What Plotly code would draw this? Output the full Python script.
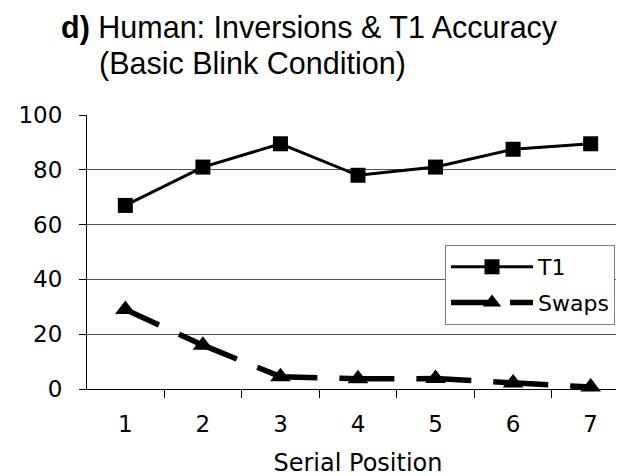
import plotly.graph_objects as go

positions = ["1", "2", "3", "4", "5", "6", "7"]
t1_values = [67, 81, 89.5, 78, 81, 87.5, 89.5]
swaps_values = [29, 16, 4.5, 3.7, 3.8, 2.2, 0.7]
y_ticks = [0, 20, 40, 60, 80, 100]

W, H = 624, 476
L, R, T, B = 79, 3, 107, 95
pw, ph = W - L - R, H - T - B

def px_x(x):
    return (x - L) / pw

def px_y(y):
    return (H - B - y) / ph

fig = go.Figure()
fig.add_trace(go.Scatter(
    x=positions, y=t1_values, name="T1", mode="lines+markers",
    legendgroup="a",
    line=dict(color="black", width=3),
    marker=dict(symbol="square", size=15, color="black"),
    cliponaxis=False,
))
fig.add_trace(go.Scatter(
    x=positions, y=swaps_values, name="Swaps", mode="lines+markers",
    legendgroup="b",
    line=dict(color="black", width=5.5,
              dash="37px,22px,63px,22px,62px,22px,55px,22px,55px,22px,55px,22px,55px,22px,40px"),
    marker=dict(symbol="triangle-up", size=18, color="black"),
    cliponaxis=False,
))

tick_font = dict(family="DejaVu Sans", size=23, color="black")

fig.update_layout(
    width=W, height=H,
    margin=dict(l=L, r=R, t=T, b=B),
    paper_bgcolor="white", plot_bgcolor="white",
    showlegend=True,
    legend=dict(
        x=px_x(437), y=px_y(237), xanchor="left", yanchor="top",
        bgcolor="white", bordercolor="#808080", borderwidth=1,
        font=dict(family="DejaVu Sans", size=22, color="black"),
        itemwidth=82, tracegroupgap=4, traceorder="grouped",
        entrywidth=110, entrywidthmode="pixels",
    ),
    xaxis=dict(
        type="category", tickson="boundaries", ticks="outside", ticklen=8,
        tickcolor="black", showline=True, linecolor="black", linewidth=1,
        showgrid=False, tickfont=tick_font, ticklabelstandoff=14,
        title=dict(text="Serial Position", font=dict(family="DejaVu Sans", size=24, color="black"), standoff=18),
    ),
    yaxis=dict(
        range=[0, 100], tickvals=y_ticks, ticks="outside", ticklen=7,
        tickcolor="black", showline=True, linecolor="black", linewidth=1,
        showgrid=True, gridcolor="#555", gridwidth=1, zeroline=False,
        tickfont=tick_font, ticklabelstandoff=12,
    ),
    annotations=[
        dict(text="<b>d)</b> Human: Inversions &amp; T1 Accuracy", xref="paper", yref="paper",
             x=px_x(51), y=px_y(39.5), xanchor="left", yanchor="bottom", showarrow=False,
             font=dict(family="Liberation Sans", size=30.5, color="black")),
        dict(text="(Basic Blink Condition)", xref="paper", yref="paper",
             x=px_x(89), y=px_y(36.5), xanchor="left", yanchor="top", showarrow=False,
             font=dict(family="Liberation Sans", size=30.5, color="black")),
    ],
)

fig.write_html("out.html")
